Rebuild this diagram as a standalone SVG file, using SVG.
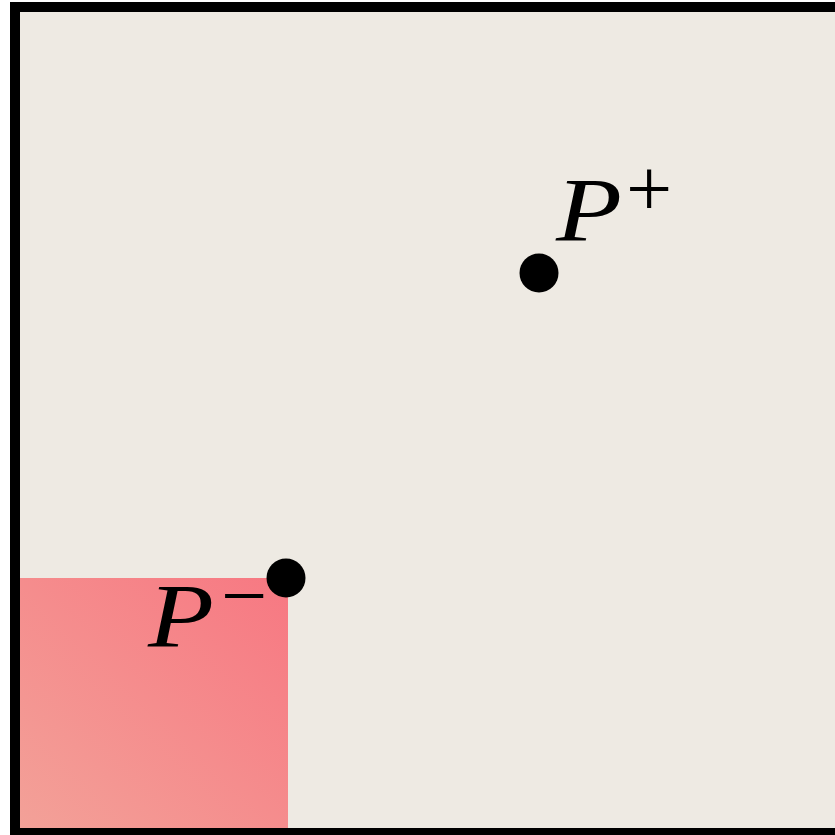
<svg xmlns="http://www.w3.org/2000/svg" width="835" height="835" viewBox="0 0 835 835">
  <defs>
    <linearGradient id="redgrad" x1="0" y1="1" x2="1" y2="0">
      <stop offset="0" stop-color="#F3A198"/>
      <stop offset="1" stop-color="#F77882"/>
    </linearGradient>
    <style>
      .lbl { font-family: "Liberation Serif", "DejaVu Serif", serif; font-style: italic; font-size: 92px; fill: #000; }
      .sup { font-family: "Liberation Serif", "DejaVu Serif", serif; font-size: 82px; fill: #000; }
      .dot { fill: #000; }
    </style>
  </defs>
  <rect x="0" y="0" width="835" height="835" fill="#FFFFFF"/>
  <rect id="frame" x="15" y="7" width="840" height="826" fill="#EEEAE3" stroke="#000" stroke-width="10"/>
  <g id="region">
    <rect x="20" y="578" width="268" height="250" fill="url(#redgrad)"/>
  </g>
  <g id="connectors"></g>
  <g id="p-plus">
    <circle class="dot" cx="539" cy="273" r="19.5"/>
    <text class="lbl" x="556" y="241" textLength="66" lengthAdjust="spacingAndGlyphs">P</text>
    <text class="sup" x="626" y="216">+</text>
  </g>
  <g id="p-minus">
    <circle class="dot" cx="286" cy="578" r="19.5"/>
    <text class="lbl" x="148" y="647" textLength="66" lengthAdjust="spacingAndGlyphs">P</text>
    <text class="sup" x="221" y="623">−</text>
  </g>
</svg>
